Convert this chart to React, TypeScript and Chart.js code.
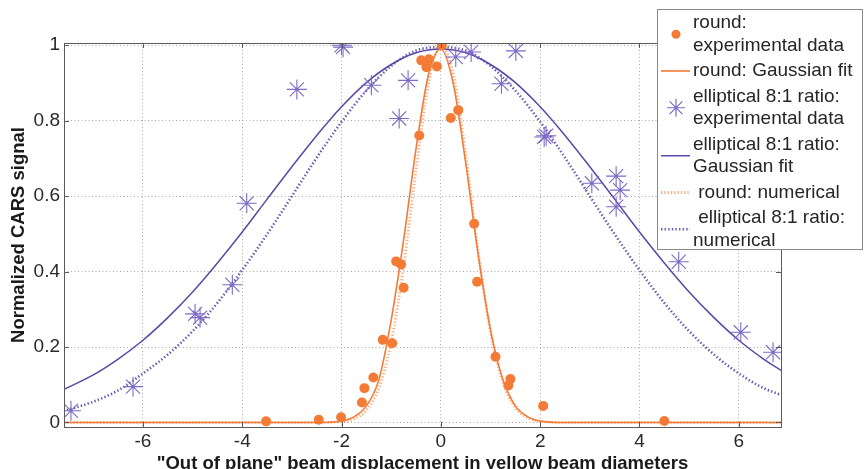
import { useEffect, useRef } from 'react';
import { Chart, registerables } from 'chart.js';

Chart.register(...registerables);

// Colours
const ORANGE = '#f47b35';
const ORANGE_DOT = 'rgba(244,123,53,0.6)';
const PURPLE = '#5a48a8';
const PURPLE_STAR = '#7b6bc6';
const PURPLE_DOT = 'rgba(90,72,168,0.9)';

// Round beam: measured points
const roundExpX = [-3.52, -2.46, -2.01, -1.59, -1.54, -1.36, -1.17, -0.98, -0.9, -0.8, -0.75, -0.435, -0.395, -0.29, -0.24, -0.08, 0.02, 0.2, 0.35, 0.67, 0.73, 1.1, 1.36, 1.4, 2.06, 4.5];
const roundExpY = [0.003, 0.007, 0.014, 0.053, 0.091, 0.119, 0.219, 0.21, 0.427, 0.419, 0.357, 0.761, 0.96, 0.942, 0.963, 0.944, 1.0, 0.807, 0.828, 0.527, 0.373, 0.174, 0.098, 0.115, 0.044, 0.004];

// Elliptical 8:1 beam: measured points
const ellExpX = [-7.45, -6.2, -4.95, -4.85, -4.2, -3.91, -2.9, -2.0, -1.97, -1.4, -0.84, -0.66, 0.3, 0.61, 1.22, 1.51, 2.08, 2.12, 3.04, 3.53, 3.61, 3.53, 4.79, 6.04, 6.69];
const ellExpY = [0.031, 0.095, 0.288, 0.278, 0.365, 0.581, 0.883, 1.0, 0.995, 0.894, 0.806, 0.907, 0.969, 0.982, 0.898, 0.985, 0.757, 0.76, 0.634, 0.653, 0.616, 0.572, 0.426, 0.239, 0.186];

// Round beam: Gaussian fit and numerical curve
const roundCurveX = [-7.6, -3, -2.5, -2, -1.75, -1.5, -1.25, -1, -0.75, -0.5, -0.25, 0, 0.25, 0.5, 0.75, 1, 1.25, 1.5, 1.75, 2, 2.5, 3, 6.85];
const roundFitY = [0, 0, 0, 0.004, 0.015, 0.044, 0.113, 0.272, 0.484, 0.726, 0.922, 0.99, 0.898, 0.688, 0.446, 0.245, 0.113, 0.044, 0.015, 0.004, 0, 0, 0];
const roundNumY = [0, 0, 0, 0.002, 0.009, 0.032, 0.091, 0.213, 0.414, 0.669, 0.897, 1.0, 0.924, 0.71, 0.453, 0.24, 0.106, 0.039, 0.012, 0.003, 0, 0, 0];

// Elliptical beam: Gaussian fit and numerical curve
const ellCurveX = [-7.6, -7, -6.5, -6, -5.5, -5, -4.5, -4, -3.5, -3, -2.5, -2, -1.5, -1, -0.5, 0, 0.5, 1, 1.5, 2, 2.5, 3, 3.5, 4, 4.5, 5, 5.5, 6, 6.5, 6.85];
const ellFitY = [0.087, 0.126, 0.168, 0.218, 0.278, 0.346, 0.423, 0.505, 0.592, 0.678, 0.761, 0.837, 0.901, 0.949, 0.98, 0.99, 0.98, 0.949, 0.901, 0.837, 0.761, 0.678, 0.592, 0.505, 0.423, 0.346, 0.278, 0.218, 0.168, 0.138];
const ellNumY = [0.03, 0.055, 0.085, 0.13, 0.18, 0.242, 0.317, 0.404, 0.499, 0.6, 0.702, 0.797, 0.88, 0.945, 0.986, 0.995, 0.986, 0.945, 0.88, 0.797, 0.702, 0.6, 0.499, 0.404, 0.317, 0.242, 0.18, 0.13, 0.091, 0.073];

// Axis ticks
const xTicks = [-6, -4, -2, 0, 2, 4, 6];
const yTicks = [0, 0.2, 0.4, 0.6, 0.8, 1];

// Legend text, one array of lines per entry
const legendLines = [
  ['round:', 'experimental data'],
  ['round: Gaussian fit'],
  ['elliptical 8:1 ratio:', 'experimental data'],
  ['elliptical 8:1 ratio:', 'Gaussian fit'],
  [' round: numerical'],
  [' elliptical 8:1 ratio:', 'numerical'],
];

const FONT = '"Liberation Sans", Arial, sans-serif';

const pts = (xs: number[], ys: number[]) => xs.map((x, i) => ({ x, y: ys[i] }));

// Plot frame with inward tick marks on all four sides
const framePlugin = {
  id: 'frame',
  afterDatasetsDraw(chart: any) {
    const { ctx, chartArea: a, scales } = chart;
    ctx.save();
    ctx.strokeStyle = '#5a5a5a';
    ctx.lineWidth = 1;
    ctx.setLineDash([]);
    ctx.strokeRect(Math.round(a.left) + 0.5, Math.round(a.top) + 0.5, Math.round(a.right - a.left), Math.round(a.bottom - a.top));
    const len = 5;
    ctx.beginPath();
    xTicks.forEach((v) => {
      const px = Math.round(scales.x.getPixelForValue(v)) + 0.5;
      ctx.moveTo(px, a.bottom);
      ctx.lineTo(px, a.bottom - len);
      ctx.moveTo(px, a.top);
      ctx.lineTo(px, a.top + len);
    });
    yTicks.forEach((v) => {
      const py = Math.round(scales.y.getPixelForValue(v)) + 0.5;
      ctx.moveTo(a.left, py);
      ctx.lineTo(a.left + len, py);
      ctx.moveTo(a.right, py);
      ctx.lineTo(a.right - len, py);
    });
    ctx.stroke();
    ctx.restore();
  },
};

// Boxed legend with multi-line entries
const legendPlugin = {
  id: 'boxLegend',
  afterDraw(chart: any) {
    const { ctx } = chart;
    const box = { left: 657.5, top: 9.5, width: 205, height: 240 };
    const lineH = 22.5;
    const gap = 3;
    const textX = 693;
    const markX0 = 661;
    const markX1 = 690;
    const markCx = 676;
    ctx.save();
    ctx.fillStyle = '#ffffff';
    ctx.fillRect(box.left, box.top, box.width, box.height);
    ctx.strokeStyle = '#8a8a8a';
    ctx.lineWidth = 1;
    ctx.strokeRect(box.left, box.top, box.width, box.height);
    ctx.font = `19px ${FONT}`;
    ctx.textBaseline = 'middle';
    ctx.textAlign = 'left';
    let y = 23;
    legendLines.forEach((lines, i) => {
      const first = y;
      lines.forEach((t, j) => {
        ctx.fillStyle = '#262626';
        ctx.fillText(t, textX, y + j * lineH);
      });
      const last = y + (lines.length - 1) * lineH;
      const my = (first + last) / 2;
      const ds = chart.data.datasets[i];
      ctx.save();
      if (i === 0) {
        ctx.fillStyle = ORANGE;
        ctx.beginPath();
        ctx.arc(markCx, my, 4.5, 0, Math.PI * 2);
        ctx.fill();
      } else if (i === 2) {
        ctx.strokeStyle = PURPLE_STAR;
        ctx.lineWidth = 1.2;
        const r = 9;
        ctx.beginPath();
        for (let k = 0; k < 4; k++) {
          const ang = (k * Math.PI) / 4;
          ctx.moveTo(markCx + Math.cos(ang) * r, my + Math.sin(ang) * r);
          ctx.lineTo(markCx - Math.cos(ang) * r, my - Math.sin(ang) * r);
        }
        ctx.stroke();
      } else {
        ctx.strokeStyle = ds.borderColor;
        ctx.lineWidth = ds.borderWidth;
        ctx.setLineDash(ds.borderDash || []);
        ctx.beginPath();
        ctx.moveTo(markX0, my);
        ctx.lineTo(markX1, my);
        ctx.stroke();
      }
      ctx.restore();
      y = last + lineH + gap;
    });
    ctx.restore();
  },
};

export default function App() {
  const canvasRef = useRef<HTMLCanvasElement | null>(null);

  useEffect(() => {
    document.body.style.margin = '0';
    const canvas = canvasRef.current;
    if (!canvas) return;
    const chart = new Chart(canvas, {
      type: 'scatter',
      data: {
        datasets: [
          {
            label: 'round: experimental data',
            data: pts(roundExpX, roundExpY),
            pointStyle: 'circle',
            pointRadius: 5,
            backgroundColor: ORANGE,
            borderColor: ORANGE,
            borderWidth: 0,
            order: 0,
          },
          {
            label: 'round: Gaussian fit',
            data: pts(roundCurveX, roundFitY),
            showLine: true,
            pointRadius: 0,
            borderColor: ORANGE,
            borderWidth: 1.6,
            cubicInterpolationMode: 'monotone',
            order: 2,
          },
          {
            label: 'elliptical 8:1 ratio: experimental data',
            data: pts(ellExpX, ellExpY),
            pointStyle: 'star',
            pointRadius: 10,
            borderColor: PURPLE_STAR,
            backgroundColor: PURPLE_STAR,
            borderWidth: 1.1,
            order: 1,
          },
          {
            label: 'elliptical 8:1 ratio: Gaussian fit',
            data: pts(ellCurveX, ellFitY),
            showLine: true,
            pointRadius: 0,
            borderColor: PURPLE,
            borderWidth: 1.5,
            cubicInterpolationMode: 'monotone',
            order: 2,
          },
          {
            label: 'round: numerical',
            data: pts(roundCurveX, roundNumY),
            showLine: true,
            pointRadius: 0,
            borderColor: ORANGE_DOT,
            borderWidth: 2.8,
            borderDash: [1.3, 2],
            cubicInterpolationMode: 'monotone',
            order: 3,
          },
          {
            label: 'elliptical 8:1 ratio: numerical',
            data: pts(ellCurveX, ellNumY),
            showLine: true,
            pointRadius: 0,
            borderColor: PURPLE_DOT,
            borderWidth: 2.6,
            borderDash: [1.4, 2.2],
            cubicInterpolationMode: 'monotone',
            order: 3,
          },
        ],
      },
      options: {
        responsive: false,
        animation: false,
        devicePixelRatio: 1,
        layout: { padding: { top: 43, right: 83, left: 0, bottom: 0 } },
        plugins: {
          legend: { display: false },
          tooltip: { enabled: false },
        },
        scales: {
          x: {
            type: 'linear',
            min: -7.59,
            max: 6.85,
            afterBuildTicks: (s: any) => {
              s.ticks = xTicks.map((v) => ({ value: v }));
            },
            afterFit: (s: any) => {
              s.height = 42;
            },
            grid: { color: '#a8a8a8', lineWidth: 1, drawTicks: false },
            border: { display: false, dash: [1, 2.5] },
            ticks: {
              color: '#2a2a2a',
              font: { family: FONT, size: 19 },
              padding: 3,
              maxRotation: 0,
              callback: (v: any) => String(v),
            },
            title: {
              display: true,
              text: '"Out of plane" beam displacement in yellow beam diameters',
              color: '#1a1a1a',
              font: { family: FONT, size: 18.5, weight: 'bold', lineHeight: 0.5 },
              padding: { top: 0, bottom: 0 },
            },
          },
          y: {
            type: 'linear',
            min: -0.012,
            max: 1.006,
            afterBuildTicks: (s: any) => {
              s.ticks = yTicks.map((v) => ({ value: v }));
            },
            afterFit: (s: any) => {
              s.width = 64;
            },
            grid: { color: '#a8a8a8', lineWidth: 1, drawTicks: false },
            border: { display: false, dash: [1, 2.5] },
            ticks: {
              color: '#2a2a2a',
              font: { family: FONT, size: 19 },
              padding: 4,
              callback: (v: any) => String(v),
            },
            title: {
              display: true,
              text: 'Normalized CARS signal',
              color: '#1a1a1a',
              font: { family: FONT, size: 18.5, weight: 'bold', lineHeight: 1 },
              padding: { top: 10, bottom: 0 },
            },
          },
        },
      },
      plugins: [framePlugin, legendPlugin],
    } as any);
    return () => chart.destroy();
  }, []);

  return (
    <div style={{ position: 'fixed', left: 0, top: 0, width: 864, height: 469, background: '#fff' }}>
      <canvas ref={canvasRef} width={864} height={469} style={{ display: 'block', width: 864, height: 469 }} />
    </div>
  );
}
